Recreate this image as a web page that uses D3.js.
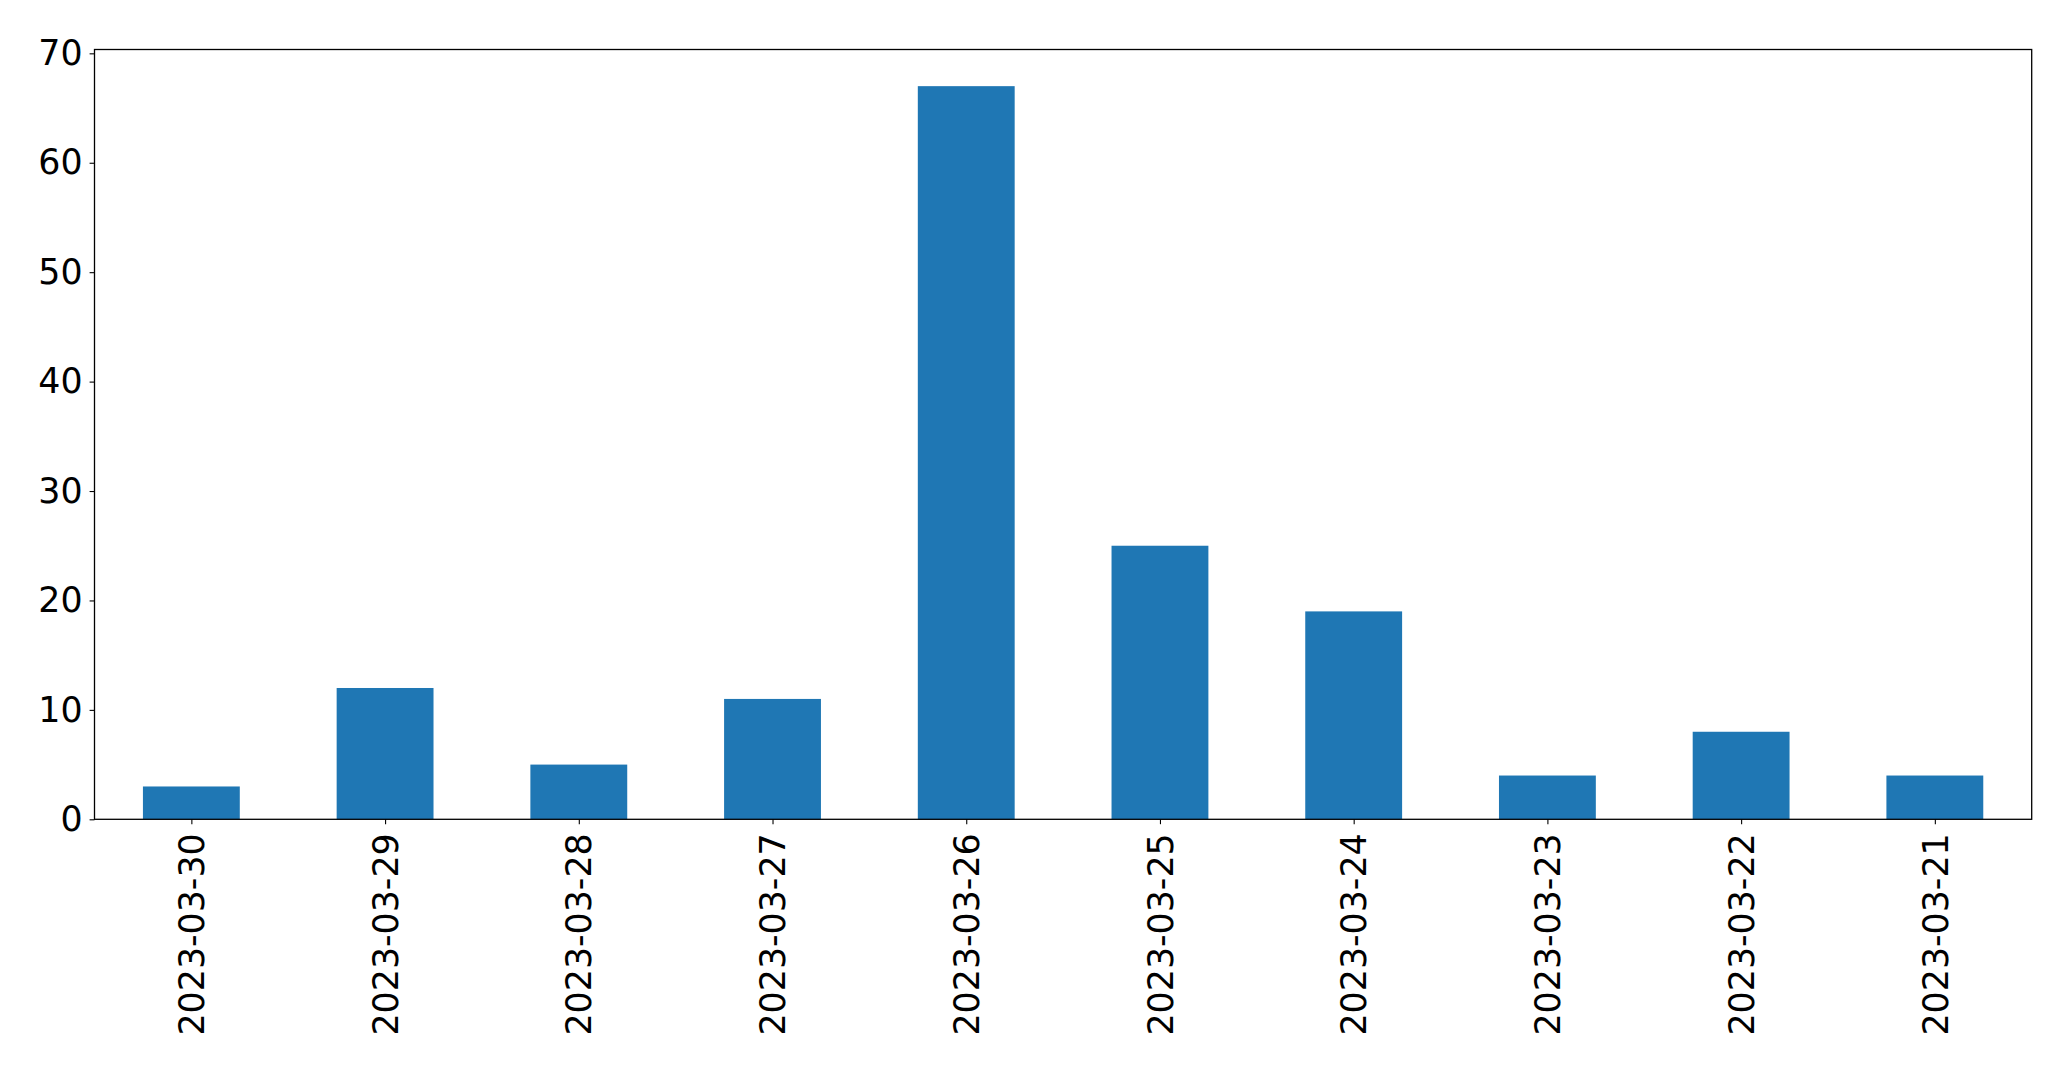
<!DOCTYPE html>
<html><head><meta charset="utf-8">
<script src="https://cdn.jsdelivr.net/npm/d3@7"></script>
<style>
html,body{margin:0;padding:0;background:#fff;}
svg{display:block;}
</style></head>
<body>
<script>
const categories = ["2023-03-30","2023-03-29","2023-03-28","2023-03-27","2023-03-26","2023-03-25","2023-03-24","2023-03-23","2023-03-22","2023-03-21"];
const values = [3, 12, 5, 11, 67, 25, 19, 4, 8, 4];
const yTicks = [0, 10, 20, 30, 40, 50, 60, 70];

const W = 2071, H = 1071;
const L = 94.5, R = 2031.7, T = 49.5, B = 819.3;
const fontSize = 34.8;
const font = "DejaVu Sans, sans-serif";

const svg = d3.select("body").append("svg").attr("width", W).attr("height", H);

const x = d3.scaleLinear().domain([-0.5, categories.length - 0.5]).range([L, R]);
const y = d3.scaleLinear().domain([0, d3.max(values) * 1.05]).range([B, T]);

svg.append("g").selectAll("rect").data(values).join("rect")
  .attr("x", (d, i) => x(i - 0.25))
  .attr("width", (d, i) => x(i + 0.25) - x(i - 0.25))
  .attr("y", d => y(d))
  .attr("height", d => y(0) - y(d))
  .attr("fill", "#1f77b4");

// frame
svg.append("rect").attr("x", L).attr("y", T).attr("width", R - L).attr("height", B - T)
  .attr("fill", "none").attr("stroke", "#000").attr("stroke-width", 1.3);

// y axis
const yAxis = d3.axisLeft(y).tickValues(yTicks).tickSize(4.9).tickPadding(7).tickFormat(d3.format("d"));
const gy = svg.append("g").attr("transform", `translate(${L},0)`).call(yAxis);
gy.select(".domain").remove();
gy.selectAll(".tick line").attr("stroke", "#000").attr("stroke-width", 1.1);
gy.selectAll(".tick text").attr("font-family", font).attr("font-size", fontSize).attr("fill", "#000");

// x axis
const xAxis = d3.axisBottom(x).tickValues(d3.range(categories.length)).tickSize(4.9).tickPadding(9)
  .tickFormat(i => categories[i]);
const gx = svg.append("g").attr("transform", `translate(0,${B})`).call(xAxis);
gx.select(".domain").remove();
gx.selectAll(".tick line").attr("stroke", "#000").attr("stroke-width", 1.1);
gx.selectAll(".tick text")
  .attr("font-family", font).attr("font-size", fontSize).attr("fill", "#000")
  .attr("transform", "rotate(-90)")
  .attr("x", -14).attr("y", 0).attr("dy", "0.35em")
  .attr("text-anchor", "end");
</script>
</body></html>
